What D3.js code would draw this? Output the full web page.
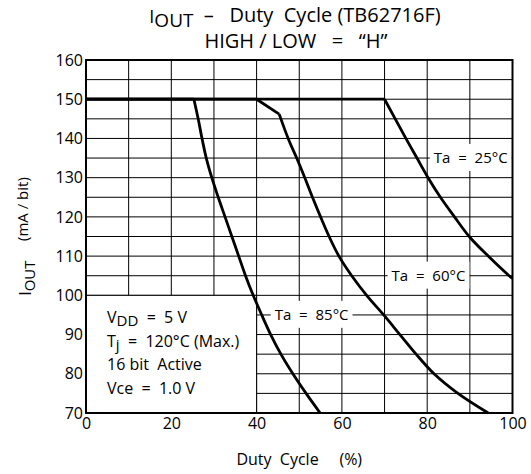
<!DOCTYPE html>
<html lang="en">
  <head>
    <meta charset="utf-8">
    <title>IOUT - Duty Cycle (TB62716F)</title>
    <script src="https://d3js.org/d3.v7.min.js"></script>
    <style>
      body { margin: 0; background: #fff; }
      svg text { font-family: "Open Sans", sans-serif; fill: #000; white-space: pre; }
      .tick text { font-size: 16px; }
    </style>
  </head>
  <body>
    <svg width="531" height="474" id="chart"></svg>
    <script>
      const width = 531;
      const height = 474;
      const plotLeft = 86, plotRight = 512.5, plotTop = 60, plotBottom = 413;

      // tick values
      const xTicks = [0, 20, 40, 60, 80, 100];
      const yTicks = [70, 80, 90, 100, 110, 120, 130, 140, 150, 160];
      const xGrid = d3.range(0, 101, 10);
      const yGrid = d3.range(70, 161, 5);

      // curves: [duty %, Iout mA]
      // flat part (limited region) and the falling part are kept apart
      const ta25Flat = [[0, 150], [70, 150]];
      const ta25 = [[70, 150], [75, 140], [77.6, 135], [80.2, 130], [83.1, 125],
        [86.4, 120], [90, 114.8], [94.3, 110], [99.2, 105], [100, 104.3]];
      const ta60Flat = [[0, 150], [40, 150], [45.3, 146.2]];
      const ta60 = [[45.3, 146.2], [47.4, 140], [49.4, 135], [51.3, 130],
        [53.1, 125], [55, 120], [57, 115], [59.3, 110], [62.3, 105], [65.8, 100], [69.8, 95],
        [73.6, 90], [77.4, 85], [81.6, 80], [87.2, 75], [94.3, 70]];
      const ta85Flat = [[0, 150], [25.3, 150]];
      const ta85 = [[25.3, 150], [26.3, 145], [27.2, 140], [28.2, 135], [29.5, 130],
        [31, 125], [32.6, 120], [34.2, 115], [35.8, 110], [37.4, 105], [39.2, 100],
        [41.2, 95], [43.3, 90], [45.7, 85], [48.5, 80], [51.6, 75], [54.9, 70]];

      const curveLabels = ["Ta  =  25°C", "Ta  =  60°C", "Ta  =  85°C"];
      const curveLabelAt = [[90.2, 135], [80.3, 105], [52.9, 95]];

      const svg = d3.select("#chart");

      const xScale = d3.scaleLinear()
          .domain([0, 100])
          .range([plotLeft, plotRight]);

      const yScale = d3.scaleLinear()
          .domain([70, 160])
          .range([plotBottom, plotTop]);

      // grid
      svg.append("g")
          .selectAll("line")
          .data(xGrid)
          .enter()
          .append("line")
          .attr("x1", d => xScale(d))
          .attr("x2", d => xScale(d))
          .attr("y1", plotTop)
          .attr("y2", plotBottom)
          .attr("stroke", "#000")
          .attr("stroke-width", 1);

      svg.append("g")
          .selectAll("line")
          .data(yGrid)
          .enter()
          .append("line")
          .attr("x1", plotLeft)
          .attr("x2", plotRight)
          .attr("y1", d => yScale(d))
          .attr("y2", d => yScale(d))
          .attr("stroke", "#000")
          .attr("stroke-width", 1);

      // conditions box (lower left)
      svg.append("rect")
          .attr("x", xScale(0))
          .attr("y", yScale(100))
          .attr("width", xScale(40) - xScale(0))
          .attr("height", yScale(70) - yScale(100))
          .attr("fill", "#fff")
          .attr("stroke", "#000")
          .attr("stroke-width", 1);

      const notes = svg.append("g")
          .attr("font-size", 16);
      const noteX = xScale(0) + 21;
      const noteY = yScale(100) + 28;

      const n1 = notes.append("text").attr("x", noteX).attr("y", noteY);
      n1.append("tspan").text("V");
      n1.append("tspan").attr("dy", 3).attr("font-size", 15).text("DD");
      n1.append("tspan").attr("dy", -3).text("  =  5 V");

      const n2 = notes.append("text").attr("x", noteX).attr("y", noteY + 23.3);
      n2.append("tspan").text("T");
      n2.append("tspan").attr("dy", 3).attr("font-size", 15).text("j");
      n2.append("tspan").attr("dy", -3).text("  =  120°C (Max.)");

      notes.append("text").attr("x", noteX).attr("y", noteY + 46.8).text("16 bit  Active");
      notes.append("text").attr("x", noteX).attr("y", noteY + 70.2).text("Vce  =  1.0 V");

      // curve labels with white backing
      const labelG = svg.append("g")
          .selectAll("g")
          .data(curveLabels)
          .enter()
          .append("g");

      labelG.append("text")
          .attr("x", (d, i) => xScale(curveLabelAt[i][0]))
          .attr("y", (d, i) => yScale(curveLabelAt[i][1]))
          .attr("dy", "0.36em")
          .attr("text-anchor", "middle")
          .attr("font-size", 15)
          .text(d => d);

      labelG.each(function() {
        const g = d3.select(this);
        const b = g.select("text").node().getBBox();
        g.insert("rect", "text")
            .attr("x", b.x - 4)
            .attr("y", b.y + b.height / 2 - 13.5)
            .attr("width", b.width + 8)
            .attr("height", 27)
            .attr("fill", "#fff");
      });

      // curves
      const flatLine = d3.line()
          .x(d => xScale(d[0]))
          .y(d => yScale(d[1]));

      const fallLine = d3.line()
          .x(d => xScale(d[0]))
          .y(d => yScale(d[1]))
          .curve(d3.curveCatmullRom.alpha(0.5));

      const curveG = svg.append("g")
          .attr("fill", "none")
          .attr("stroke", "#000")
          .attr("stroke-width", 2.8)
          .attr("stroke-linejoin", "round");

      curveG.selectAll("path.flat")
          .data([ta25Flat, ta60Flat, ta85Flat])
          .enter()
          .append("path")
          .attr("class", "flat")
          .attr("d", flatLine);

      curveG.selectAll("path.fall")
          .data([ta25, ta60, ta85])
          .enter()
          .append("path")
          .attr("class", "fall")
          .attr("d", fallLine);

      // frame
      svg.append("rect")
          .attr("x", plotLeft)
          .attr("y", plotTop)
          .attr("width", plotRight - plotLeft)
          .attr("height", plotBottom - plotTop)
          .attr("fill", "none")
          .attr("stroke", "#000")
          .attr("stroke-width", 2);

      // axes
      const leftAxis = d3.axisLeft(yScale)
          .tickValues(yTicks)
          .tickSize(0)
          .tickPadding(3);

      const bottomAxis = d3.axisBottom(xScale)
          .tickValues(xTicks)
          .tickSize(0)
          .tickPadding(5);

      svg.append("g")
          .attr("transform", "translate(" + plotLeft + ",0)")
          .call(leftAxis)
          .call(g => g.select(".domain").remove());

      svg.append("g")
          .attr("transform", "translate(0," + plotBottom + ")")
          .call(bottomAxis)
          .call(g => g.select(".domain").remove());

      svg.selectAll(".tick text").attr("fill", "#000");

      // titles
      const t1 = svg.append("text")
          .attr("x", 295)
          .attr("y", 22)
          .attr("text-anchor", "middle")
          .attr("font-size", 20);
      t1.append("tspan").attr("font-size", 18).attr("dy", 1).text("I");
      t1.append("tspan").attr("font-size", 19).attr("dy", 4).text("OUT");
      t1.append("tspan").attr("dy", -5).text("  –   Duty  Cycle (TB62716F)");

      svg.append("text")
          .attr("x", 296)
          .attr("y", 48)
          .attr("text-anchor", "middle")
          .attr("font-size", 20)
          .text("HIGH / LOW   =   “H”");

      // axis labels
      svg.append("text")
          .attr("x", (plotLeft + plotRight) / 2)
          .attr("y", 465)
          .attr("text-anchor", "middle")
          .attr("font-size", 16)
          .text("Duty  Cycle     (%)");

      const yl = svg.append("text")
          .attr("transform", "translate(29," + (plotTop + plotBottom) / 2 + ") rotate(-90)")
          .attr("text-anchor", "middle")
          .attr("font-size", 15);
      yl.append("tspan").attr("font-size", 16).attr("dy", 2).text("I");
      yl.append("tspan").attr("dy", 4).text("OUT");
      yl.append("tspan").attr("dy", -7).text("     (mA / bit)");
    </script>
  </body>
</html>
